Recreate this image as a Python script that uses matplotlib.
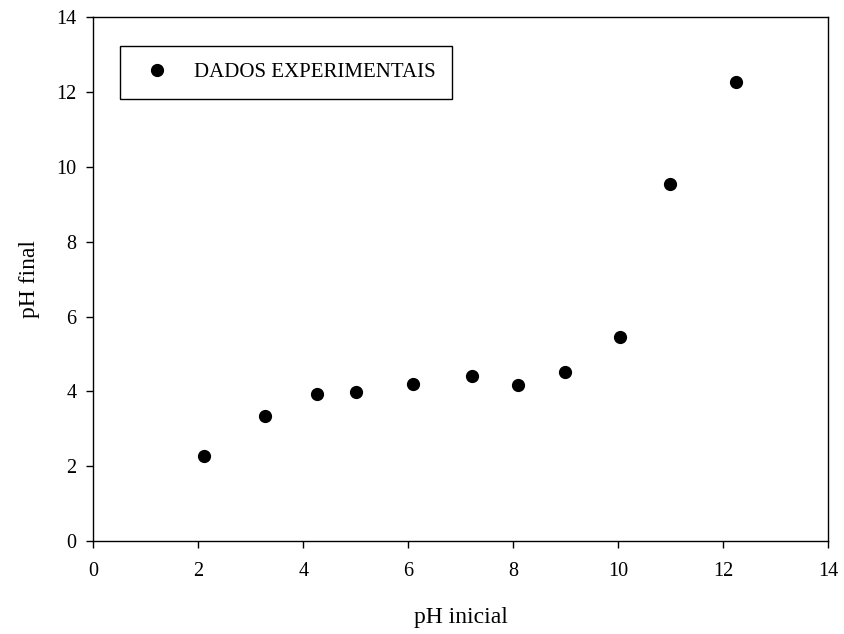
import matplotlib.pyplot as plt

# pH inicial x pH final
ph_inicial = [2.10, 3.27, 4.27, 5.00, 6.10, 7.21, 8.10, 8.98, 10.04, 10.98, 12.24]
ph_final = [2.26, 3.35, 3.92, 3.99, 4.20, 4.41, 4.18, 4.51, 5.45, 9.54, 12.27]

plt.rcParams['font.family'] = ['Liberation Serif', 'DejaVu Serif']

fig = plt.figure(figsize=(8.45, 6.34), dpi=100)
ax = fig.add_axes([0.1104, 0.1467, 0.8696, 0.826])

ax.plot(ph_inicial, ph_final, 'o', color='black', markersize=8.5,
        label='DADOS EXPERIMENTAIS')

ax.set_xlim(0, 14)
ax.set_ylim(0, 14)
ax.set_xticks(range(0, 15, 2))
ax.set_yticks(range(0, 15, 2))
ax.tick_params(direction='out', length=5, width=1, labelsize=14.5, pad=7)
ax.tick_params(axis='x', pad=10)
for s in ax.spines.values():
    s.set_linewidth(1)

ax.set_xlabel('pH inicial', fontsize=17, labelpad=19)
ax.set_ylabel('pH final', fontsize=17, labelpad=12)

leg = ax.legend(loc='upper left', bbox_to_anchor=(0.036, 0.946), fancybox=False,
                edgecolor='black', framealpha=1, fontsize=15, borderpad=0.8,
                handletextpad=0.75, borderaxespad=0, handlelength=2.0)
leg.get_frame().set_linewidth(1)

fig.savefig('out.png', dpi=100)
